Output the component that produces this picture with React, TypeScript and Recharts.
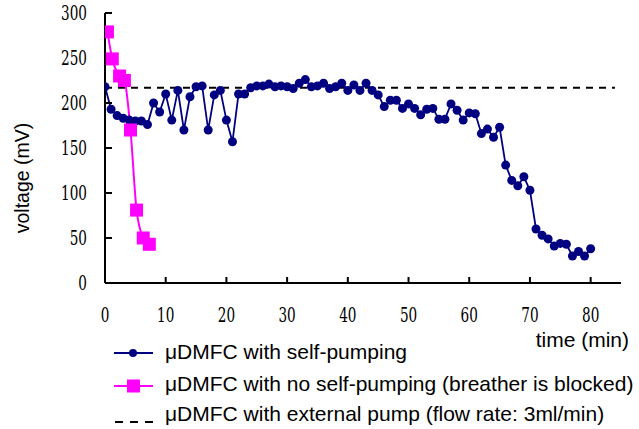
import { LineChart, Line, XAxis, YAxis, Label } from 'recharts';

// time (min) and voltage (mV)
const selfPumpTime = [
  0, 1, 2, 3, 4, 5, 6, 7, 8, 9, 10, 11, 12, 13, 14, 15, 16, 17, 18, 19, 20,
  21, 22, 23, 24, 25, 26, 27, 28, 29, 30, 31, 32, 33, 34, 35, 36, 37, 38, 39, 40,
  41, 42, 43, 44, 45, 46, 47, 48, 49, 50, 51, 52, 53, 54, 55, 56, 57, 58, 59, 60,
  61, 62, 63, 64, 65, 66, 67, 68, 69, 70, 71, 72, 73, 74, 75, 76, 77, 78, 79, 80,
];
const selfPumpVoltage = [
  218, 193, 186, 183, 181, 180, 180, 176, 200, 190, 210, 181, 214, 170, 207, 218, 219, 170, 209, 214, 181,
  157, 210, 210, 217, 219, 219, 221, 218, 219, 218, 216, 222, 226, 218, 219, 222, 216, 218, 222, 214,
  220, 214, 222, 214, 209, 196, 203, 203, 194, 199, 194, 187, 193, 194, 182, 182, 199, 192, 181, 189,
  188, 166, 171, 162, 173, 131, 114, 108, 118, 103, 60, 53, 49, 41, 44, 43, 30, 35, 30, 38,
];

const blockedTime = [0.4, 1.2, 2.4, 3.2, 4.2, 5.2, 6.3, 7.3];
const blockedVoltage = [279, 249, 230, 225, 170, 81, 50, 43];

const externalTime = [0, 84];
const externalVoltage = [217, 217];

const xTicks = [0, 10, 20, 30, 40, 50, 60, 70, 80];
const yTicks = [0, 50, 100, 150, 200, 250, 300];

const legendLabels = [
  '\u03bcDMFC with self-pumping',
  '\u03bcDMFC with no self-pumping (breather is blocked)',
  '\u03bcDMFC with external pump (flow rate: 3ml/min)',
];

const selfPump = selfPumpTime.map((t, i) => ({ t, v: selfPumpVoltage[i] }));
const blocked = blockedTime.map((t, i) => ({ t, v: blockedVoltage[i] }));
const external = externalTime.map((t, i) => ({ t, v: externalVoltage[i] }));

const NAVY = '#000080';
const MAGENTA = '#FF00FF';
const sans = '"Liberation Sans", Arial, sans-serif';
// only DejaVu Serif resolves to a real serif face here; squeeze it to look like the narrow original digits
const serif = 'DejaVu Serif';
const squeeze = 0.68;

function SquareDot(props: any) {
  const { cx, cy } = props;
  if (cx == null || cy == null) return null;
  return <rect x={cx - 6.5} y={cy - 6.5} width={13} height={13} fill={MAGENTA} />;
}

const renderXTick = (props: any) => {
  const { x, y, payload } = props;
  return (
    <g key={`x-${payload.value}`} transform={`translate(${x}, ${y + 15}) scale(${squeeze}, 1)`}>
      <text x={0} y={0} textAnchor="middle" fill="#000" fontFamily={serif} fontSize={20}>
        {payload.value}
      </text>
    </g>
  );
};

const renderYTick = (props: any) => {
  const { x, y, payload } = props;
  return (
    <g key={`y-${payload.value}`} transform={`translate(${x}, ${y + 7}) scale(${squeeze}, 1)`}>
      <text x={0} y={0} textAnchor="end" fill="#000" fontFamily={serif} fontSize={20}>
        {payload.value}
      </text>
    </g>
  );
};

function ChartLegend() {
  const rows = [352, 384, 414];
  return (
    <svg width={639} height={429} style={{ position: 'absolute', left: 0, top: 0, pointerEvents: 'none' }}>
      {/* self-pumping */}
      <line x1={114} x2={153} y1={rows[0] + 1} y2={rows[0] + 1} stroke={NAVY} strokeWidth={2} />
      <circle cx={133} cy={rows[0] + 1} r={4} fill={NAVY} />
      {/* breather blocked */}
      <line x1={114} x2={153} y1={rows[1] + 2} y2={rows[1] + 2} stroke={MAGENTA} strokeWidth={2} />
      <rect x={127} y={rows[1] - 4.5} width={13} height={13} fill={MAGENTA} />
      {/* external pump */}
      <line x1={115} x2={153} y1={rows[2] + 8} y2={rows[2] + 8} stroke="#000" strokeWidth={2} strokeDasharray="8 7" />
      {legendLabels.map((txt, i) => (
        <text key={i} x={165} y={rows[i] + 7} fontFamily={sans} fontSize={21} fill="#000">
          {txt}
        </text>
      ))}
    </svg>
  );
}

export default function App() {
  return (
    <div style={{ position: 'absolute', left: 0, top: 0, width: 639, height: 429, background: '#fff' }}>
      <LineChart width={639} height={429} margin={{ top: 13, right: 18, bottom: 116, left: 0 }}>
        <XAxis
          type="number"
          dataKey="t"
          domain={[0, 85]}
          ticks={xTicks}
          allowDataOverflow
          stroke="#000"
          strokeWidth={2}
          tickSize={-6}
          tickMargin={30}
          height={30}
          tick={renderXTick}
        >
          <Label
            content={({ viewBox }: any) => (
              <text
                x={viewBox.x + viewBox.width + 8}
                y={viewBox.y + 64}
                textAnchor="end"
                fontFamily={sans}
                fontSize={21}
                fill="#000"
              >
                time (min)
              </text>
            )}
          />
        </XAxis>
        <YAxis
          type="number"
          domain={[0, 300]}
          ticks={yTicks}
          width={105}
          stroke="#000"
          strokeWidth={2}
          tickSize={-7}
          tickMargin={25}
          tick={renderYTick}
        >
          <Label
            content={({ viewBox }: any) => (
              <text
                x={22}
                y={viewBox.y + 165}
                transform={`rotate(-90, 22, ${viewBox.y + 165})`}
                textAnchor="middle"
                dominantBaseline="central"
                fontFamily={sans}
                fontSize={19.5}
                fill="#000"
              >
                voltage (mV)
              </text>
            )}
          />
        </YAxis>
        <Line
          data={external}
          dataKey="v"
          type="linear"
          stroke="#000"
          strokeWidth={2}
          strokeDasharray="7 6"
          dot={false}
          activeDot={false}
          isAnimationActive={false}
        />
        <Line
          data={selfPump}
          dataKey="v"
          type="linear"
          stroke={NAVY}
          strokeWidth={1.8}
          dot={{ r: 4.5, fill: NAVY, stroke: NAVY, strokeWidth: 0 }}
          activeDot={false}
          isAnimationActive={false}
        />
        <Line
          data={blocked}
          dataKey="v"
          type="monotone"
          stroke={MAGENTA}
          strokeWidth={2}
          dot={<SquareDot />}
          activeDot={false}
          isAnimationActive={false}
        />
      </LineChart>
      <ChartLegend />
    </div>
  );
}
